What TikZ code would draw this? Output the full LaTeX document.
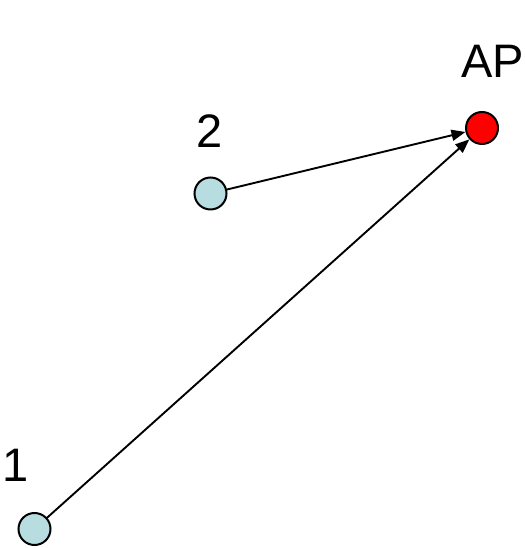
\documentclass[tikz,border=0pt]{standalone}
\usepackage{fontspec}
\setmainfont{Liberation Sans}
\usetikzlibrary{arrows.meta}
\definecolor{stafill}{RGB}{184,221,224}
\definecolor{apfill}{RGB}{255,0,0}
\begin{document}
\begin{tikzpicture}[x=1pt,y=1pt,
  station/.style={circle,draw=black,line width=2pt,minimum size=32pt,inner sep=0pt,fill=stafill},
  apnode/.style={station,fill=apfill},
  lbl/.style={font=\fontsize{47}{56}\selectfont,inner sep=0pt},
  link/.style={line width=1.9pt,-{Triangle[length=14pt,width=11pt]}}]
  \useasboundingbox (0,0) rectangle (524,548);
  \node[apnode] (ap) at (482,420) {};
  \node[station] (s2) at (210.5,354.5) {};
  \node[station] (s1) at (34.5,19) {};
  \node[lbl] (lap) at (492.5,487) {AP};
  \node[lbl] (l2) at (210,417) {2};
  \node[lbl] (l1) at (16,83) {1};
  \draw[link] (s2) -- (ap);
  \draw[link] (s1) -- (ap);
\end{tikzpicture}
\end{document}
